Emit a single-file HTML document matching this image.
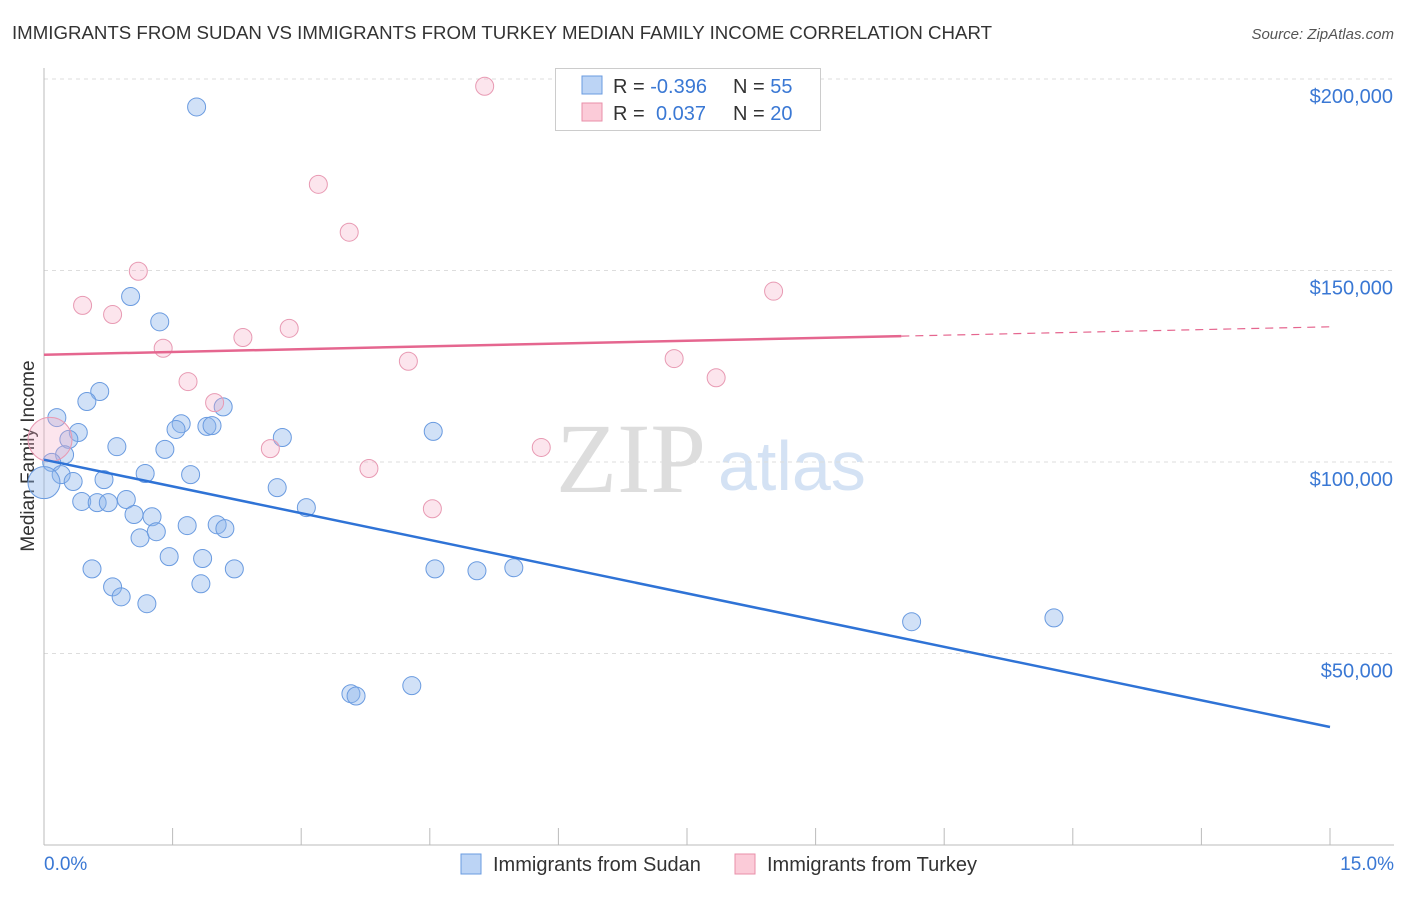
<!DOCTYPE html>
<html><head><meta charset="utf-8"><style>
body{margin:0;background:#fff;font-family:"Liberation Sans",sans-serif;}
</style></head><body>
<svg width="1406" height="892" xmlns="http://www.w3.org/2000/svg" style="font-family:'Liberation Sans',sans-serif">
<text x="12" y="39" font-size="18" fill="#333" textLength="980" lengthAdjust="spacingAndGlyphs">IMMIGRANTS FROM SUDAN VS IMMIGRANTS FROM TURKEY MEDIAN FAMILY INCOME CORRELATION CHART</text>
<text x="1394" y="39" font-size="15" fill="#555" font-style="italic" text-anchor="end">Source: ZipAtlas.com</text>
<text x="556" y="492" font-size="100" fill="#ddd" font-family="Liberation Serif">ZIP</text>
<text x="718" y="490" font-size="70" fill="#d4e2f4">atlas</text>
<g id="grid"></g>
<line x1="44" y1="68" x2="44" y2="845" stroke="#bbb"/>
<line x1="44" y1="845" x2="1394" y2="845" stroke="#bbb"/>
<g id="ticks"></g>
<text transform="translate(34,456) rotate(-90)" font-size="19" fill="#333" text-anchor="middle">Median Family Income</text>
<text x="44" y="870" font-size="19" fill="#3a78d4">0.0%</text>
<text x="1394" y="870" font-size="19" fill="#3a78d4" text-anchor="end">15.0%</text>
<g id="pts"></g>
<g id="lines"></g>
<g>
<rect x="555.5" y="68.5" width="265" height="62" fill="#fff" stroke="#ccc"/>
<rect x="582" y="76" width="20" height="18" fill="#bcd4f5" stroke="#6a9be0"/>
<rect x="582" y="103" width="20" height="18" fill="#fbcbd8" stroke="#e88fa9"/>
<text x="613" y="93" font-size="20" fill="#333">R = <tspan fill="#3a78d4">-0.396</tspan><tspan x="733">N = </tspan><tspan fill="#3a78d4">55</tspan></text>
<text x="613" y="120" font-size="20" fill="#333">R = <tspan fill="#3a78d4" x="656">0.037</tspan><tspan x="733">N = </tspan><tspan fill="#3a78d4">20</tspan></text>
</g>
<g><rect x="461" y="854" width="20" height="20" fill="#bcd4f5" stroke="#6a9be0"/><text x="493" y="871" font-size="20" fill="#333">Immigrants from Sudan</text></g>
<g><rect x="735" y="854" width="20" height="20" fill="#fbcbd8" stroke="#e88fa9"/><text x="767" y="871" font-size="20" fill="#333">Immigrants from Turkey</text></g>
</svg>
<script>
const yTicks=[50000,100000,150000,200000];
const yTickLabels=["$50,000","$100,000","$150,000","$200,000"];
const sudanX=[1.78,1.01,1.35,0.65,0.50,0.15,2.09,1.60,1.54,1.90,1.96,0.40,0.29,0.85,1.41,4.54,2.78,0.24,0.09,0.20,1.18,1.71,0.34,0.70,0.0,2.72,0.44,0.62,0.75,0.96,3.06,1.05,1.26,1.67,2.02,2.11,1.12,1.31,1.46,1.85,0.56,2.22,4.56,5.05,5.48,0.80,0.90,1.20,1.83,10.12,11.78,3.58,3.64,4.29];
const sudanY=[192700,143200,136600,118400,115800,111600,114400,110000,108500,109300,109500,107700,105900,104000,103300,108000,106400,101900,99900,96700,97000,96700,94900,95400,94600,93300,89700,89400,89400,90200,88100,86300,85700,83400,83600,82600,80200,81800,75300,74800,72100,72100,72100,71600,72400,67400,64800,63000,68200,58300,59300,39500,38900,41600];
const turkeyX=[5.14,3.20,3.56,1.10,0.45,0.80,2.32,2.86,1.39,4.25,7.35,1.68,7.84,1.99,8.51,2.64,5.80,3.79,4.53,0.07];
const turkeyY=[198100,172500,160000,149800,140900,138500,132500,134900,129700,126300,127000,121000,122000,115500,144600,103500,103800,98300,87800,105900];
const sudanTrend=[100600,30800];
const turkeyTrend=[128000,135300];
const NS="http://www.w3.org/2000/svg";
const xs=v=>44+v/15*1286;
const ys=v=>845-v/50000*191.5;
function mk(t,a,p){const e=document.createElementNS(NS,t);for(const k in a)e.setAttribute(k,a[k]);p.appendChild(e);return e;}
const grid=document.getElementById('grid'),ticks=document.getElementById('ticks'),pts=document.getElementById('pts'),lines=document.getElementById('lines');
yTicks.forEach((v,i)=>{
 const l=mk('line',{x1:44,x2:1394,y1:ys(v),y2:ys(v),stroke:'#ddd','stroke-dasharray':'4,4'},grid);
 
 
 const t=mk('text',{x:1393,y:ys(v)+24,'font-size':20,fill:'#3a78d4','text-anchor':'end'},ticks);
 t.textContent=yTickLabels[i];
 
 
});
for(let i=0;i<=10;i++){
 const l=mk('line',{x1:xs(i*1.5),x2:xs(i*1.5),y1:828,y2:845,stroke:'#bbb'},ticks);
 
 
}
sudanX.forEach((x,i)=>{
 const r=(x===0)?16:9;
 const c=mk('circle',{cx:xs(x),cy:ys(sudanY[i]),r:r,fill:'rgba(140,180,235,0.4)',stroke:'#6a9be0','stroke-width':1},pts);
 
 
});
turkeyX.forEach((x,i)=>{
 const r=(i===19)?22:9;
 const c=mk('circle',{cx:xs(x),cy:ys(turkeyY[i]),r:r,fill:'rgba(245,170,195,0.3)',stroke:'#e89ab3','stroke-width':1},pts);
 
 
});
const bl=mk('line',{x1:xs(0),y1:ys(sudanTrend[0]),x2:xs(15),y2:ys(sudanTrend[1]),stroke:'#2f73d6','stroke-width':2.5},lines);


const tAt=x=>turkeyTrend[0]+(turkeyTrend[1]-turkeyTrend[0])*x/15;
const pl=mk('line',{x1:xs(0),y1:ys(tAt(0)),x2:xs(10),y2:ys(tAt(10)),stroke:'#e5668f','stroke-width':2.5},lines);


const pd=mk('line',{x1:xs(10),y1:ys(tAt(10)),x2:xs(15),y2:ys(tAt(15)),stroke:'#e5668f','stroke-width':1.2,'stroke-dasharray':'8,6'},lines);


</script>
</body></html>
